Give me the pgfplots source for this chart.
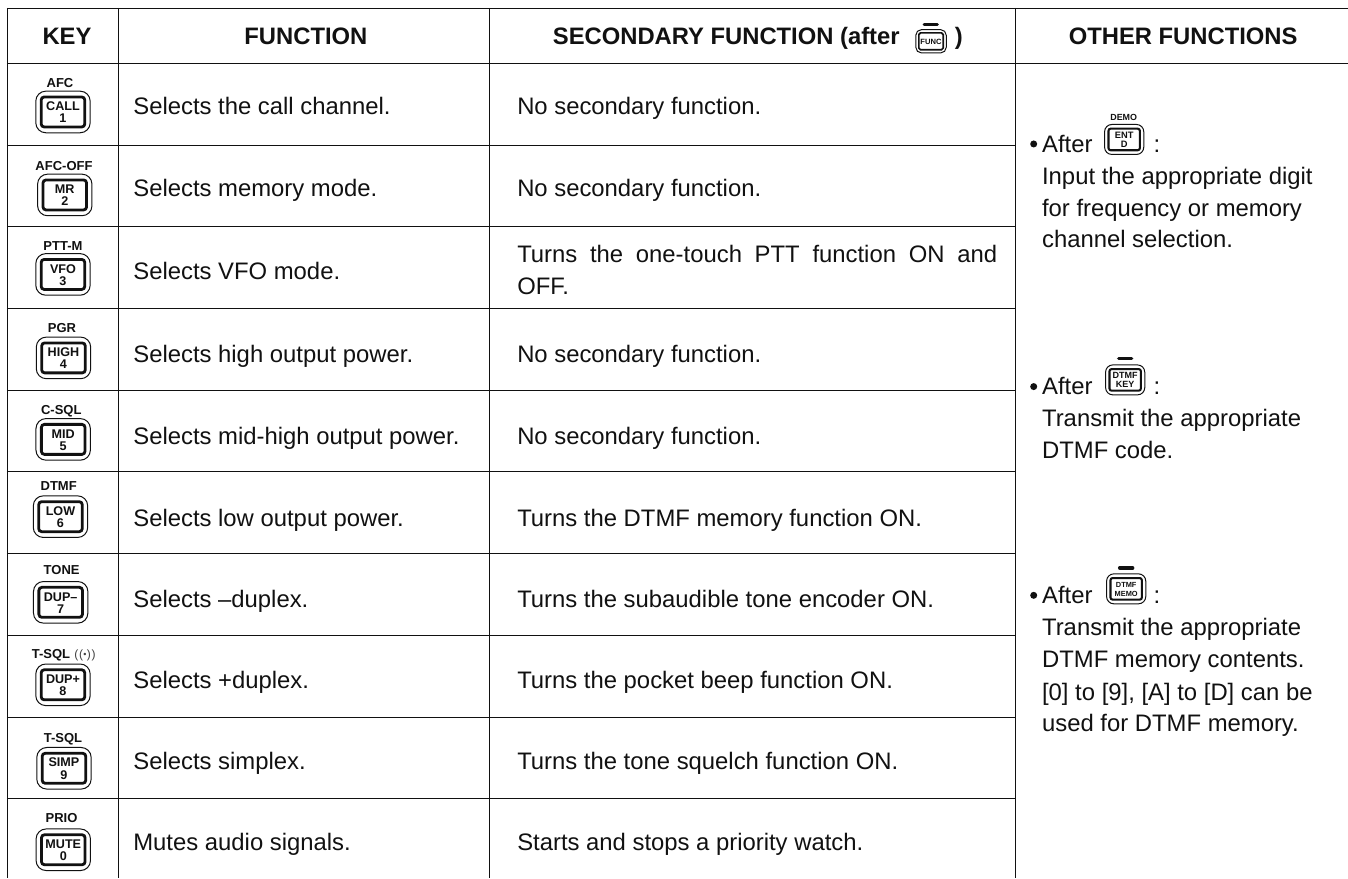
\documentclass[border=0pt]{standalone}
\usepackage{pgfplots}
\pgfplotsset{compat=1.18}
\usepackage{fontspec}
\setmainfont{Liberation Sans}
\definecolor{ink}{HTML}{111111}
\newcommand{\fs}[1]{\fontsize{#1}{#1}\selectfont}
% key cap: cx, cy, scale, font pt, line1, line2
\newcommand{\keycap}[6]{%
 \begin{scope}[shift={(axis cs:#1,#2)},scale=#3]
  \draw[ink,line width=0.5pt,rounded corners=5pt*#3] (-13.6pt,-10.4pt) rectangle (13.6pt,10.4pt);
  \draw[ink,line width=1.3pt*#3+0.1pt,rounded corners=1.5pt*#3] (-10.9pt,-7.5pt) rectangle (10.9pt,7.5pt);
  \node[ink,anchor=base,inner sep=0pt,font=\fs{#4}\bfseries] at (0pt,0.65pt) {#5};
  \node[ink,anchor=base,inner sep=0pt,font=\fs{#4}\bfseries] at (0pt,-5.5pt) {#6};
 \end{scope}}
\newcommand{\keylabel}[3]{\node[ink,anchor=base,inner sep=0pt,font=\fs{6.5}\bfseries] at (axis cs:#1,#2) {#3};}
\newcommand{\txt}[3]{\node[ink,anchor=base west,inner sep=0pt,font=\fs{11.93}] at (axis cs:#1,#2) {#3};}
\newcommand{\hd}[3]{\node[ink,anchor=base,inner sep=0pt,font=\fs{11.9}\bfseries] at (axis cs:#1,#2) {#3};}
\newcommand{\barcap}[2]{\draw[ink,line width=1.7pt,line cap=round] (axis cs:#1-6.5,#2) -- (axis cs:#1+6.5,#2);}
\newcommand{\bull}[2]{\fill[ink] (axis cs:#1,#2) circle (1.75pt);}
\begin{document}
\begin{tikzpicture}
\begin{axis}[scale only axis,width=674pt,height=439pt,xmin=0,xmax=1348,ymin=0,ymax=878,y dir=reverse,hide axis,clip=false,
  cycle list={{ink,line width=1pt,no markers}},every axis plot/.append style={forget plot}]
\path[fill=white] (axis cs:0,0) rectangle (axis cs:1348,878);
% grid lines
\addplot coordinates {(7,8)(1348,8)};
\addplot coordinates {(7,63)(1348,63)};
\addplot coordinates {(7,145)(1016,145)};
\addplot coordinates {(7,226.5)(1016,226.5)};
\addplot coordinates {(7,308.5)(1016,308.5)};
\addplot coordinates {(7,390.5)(1016,390.5)};
\addplot coordinates {(7,472)(1016,472)};
\addplot coordinates {(7,554)(1016,554)};
\addplot coordinates {(7,636)(1016,636)};
\addplot coordinates {(7,717.5)(1016,717.5)};
\addplot coordinates {(7,799)(1016,799)};
\addplot coordinates {(7,8)(7,878)};
\addplot coordinates {(118,8)(118,878)};
\addplot coordinates {(490,8)(490,878)};
\addplot coordinates {(1016,8)(1016,878)};
% header
\hd{67}{45}{KEY}
\hd{306}{45}{FUNCTION}
\hd{726.5}{45}{SECONDARY FUNCTION (after}
\hd{959}{45}{)}
\barcap{931}{24.7}
\keycap{931.3}{41.3}{0.56}{3.8}{\raisebox{-2.2pt}{FUNC}}{}
\hd{1183.5}{45}{OTHER FUNCTIONS}
% keys
\keylabel{60}{88}{AFC}\keycap{63}{112}{1}{6.3}{CALL}{1}
\keylabel{64}{171}{AFC-OFF}\keycap{64.8}{195}{1}{6.3}{MR}{2}
\keylabel{63}{250.7}{PTT-M}\keycap{63}{274.5}{1}{6.3}{VFO}{3}
\keylabel{62}{333}{PGR}\keycap{63.5}{358}{1}{6.3}{HIGH}{4}
\keylabel{61.3}{414.3}{C-SQL}\keycap{63.2}{439.5}{1}{6.3}{MID}{5}
\keylabel{58.7}{490.7}{DTMF}\keycap{60.5}{516.8}{1}{6.3}{LOW}{6}
\keylabel{61.7}{575}{TONE}\keycap{60.7}{602.5}{1}{6.3}{DUP--}{7}
\keylabel{51}{658.5}{T-SQL}
\node[ink!80,anchor=base,inner sep=0pt,font=\fs{6}] at (axis cs:85,658.5) {(\kern0.3pt(\kern0.2pt\raisebox{0.2pt}{\fs{4.5}•}\kern0.2pt)\kern0.3pt)};
\keycap{63}{685}{1}{6.3}{DUP+}{8}
\keylabel{63}{742.7}{T-SQL}\keycap{64}{768.5}{1}{6.3}{SIMP}{9}
\keylabel{61.5}{823}{PRIO}\keycap{63.3}{850}{1}{6.3}{MUTE}{0}
% function column
\txt{133}{115}{Selects the call channel.}
\txt{133}{197}{Selects memory mode.}
\txt{133}{280}{Selects VFO mode.}
\txt{133}{363}{Selects high output power.}
\txt{133}{445}{Selects mid-high output power.}
\txt{133}{527}{Selects low output power.}
\txt{133}{608}{Selects --duplex.}
\txt{133}{689}{Selects +duplex.}
\txt{133}{770}{Selects simplex.}
\txt{133}{851}{Mutes audio signals.}
% secondary column
\txt{517}{115}{No secondary function.}
\txt{517}{197}{No secondary function.}
\txt{517}{263}{\makebox[240pt][s]{Turns the one-touch PTT function ON and}}
\txt{517}{295}{OFF.}
\txt{517}{363}{No secondary function.}
\txt{517}{445}{No secondary function.}
\txt{517}{527}{Turns the DTMF memory function ON.}
\txt{517}{608}{Turns the subaudible tone encoder ON.}
\txt{517}{689}{Turns the pocket beep function ON.}
\txt{517}{770}{Turns the tone squelch function ON.}
\txt{517}{851}{Starts and stops a priority watch.}
% other functions
\bull{1034}{144}
\txt{1042}{152.7}{After}
\txt{1153.5}{152.7}{:}
\node[ink,anchor=base,inner sep=0pt,font=\fs{4.45}\bfseries] at (axis cs:1124,120.7) {DEMO};
\keycap{1124.5}{139.5}{0.72}{4.65}{ENT}{D}
\txt{1042}{185}{Input the appropriate digit}
\txt{1042}{216.7}{for frequency or memory}
\txt{1042}{248}{channel selection.}
\bull{1034}{386.7}
\txt{1042}{395}{After}
\txt{1153.5}{395}{:}
\barcap{1125.5}{358.7}
\keycap{1125.5}{380}{0.72}{4.5}{DTMF}{KEY}
\txt{1042}{427}{Transmit the appropriate}
\txt{1042}{459}{DTMF code.}
\bull{1034}{595.5}
\txt{1042}{604}{After}
\txt{1153.5}{604}{:}
\barcap{1126.5}{568}
\keycap{1126.5}{589}{0.72}{3.7}{DTMF}{MEMO}
\txt{1042}{636}{Transmit the appropriate}
\txt{1042}{668}{DTMF memory contents.}
\txt{1042}{700.5}{[0] to [9], [A] to [D] can be}
\txt{1042}{732}{used for DTMF memory.}
\end{axis}
\end{tikzpicture}
\end{document}
